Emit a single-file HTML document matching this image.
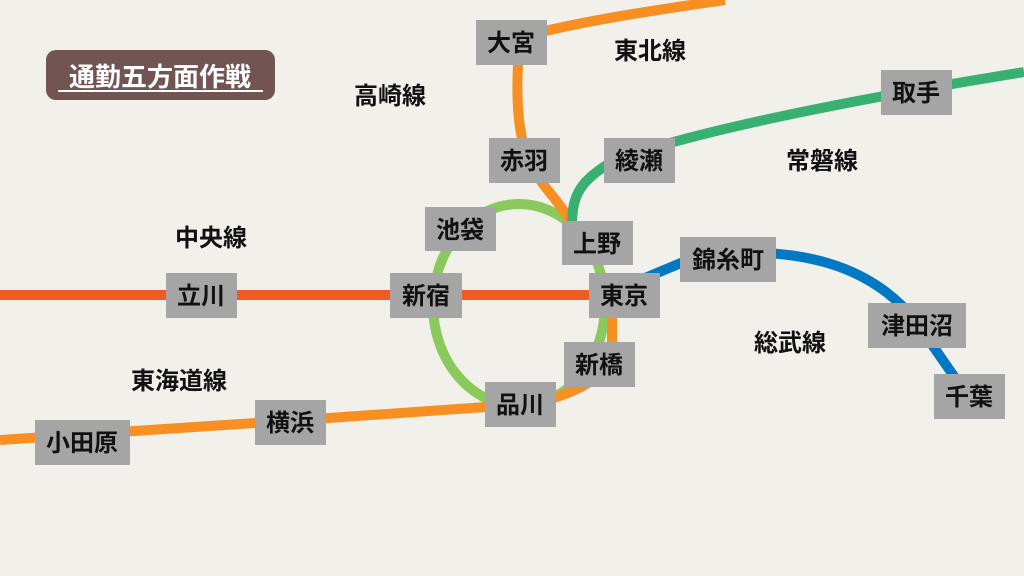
<!DOCTYPE html>
<html><head><meta charset="utf-8"><style>
body{margin:0;background:#f2f0ea;}
svg{display:block}
text{font-family:"Liberation Sans","Noto Sans CJK JP",sans-serif;font-weight:bold;}
</style></head><body>
<svg width="1024" height="576" viewBox="0 0 1024 576">
<rect width="1024" height="576" fill="#f2f0ea"/>
<g fill="none" stroke-width="10">
<ellipse cx="519" cy="305" rx="86" ry="101" stroke="#8ac95c"/>
<path d="M0 440 L300 420 L515 405 C565 400 612 380 612 345 L612 300" stroke="#f78f22"/>
<path d="M725 0 C640 12 560 25 520 38 C515 90 515 150 540 180 C555 200 565 210 572 225" stroke="#f78f22"/>
<path d="M572 225 C572 195 580 180 615 160 C700 130 850 100 1024 72" stroke="#37b071"/>
<path d="M0 295 L600 295" stroke="#f25a25"/>
<path d="M645 278 L700 255 C800 245 870 265 915 320 L960 385" stroke="#0078c4"/>
</g>
<g fill="#a5a5a5">
<rect x="476" y="20" width="71" height="45"/>
<rect x="489" y="138" width="71" height="45"/>
<rect x="604" y="138" width="71" height="45"/>
<rect x="881" y="70" width="71" height="45"/>
<rect x="425" y="207" width="71" height="44"/>
<rect x="562" y="221" width="71" height="44"/>
<rect x="390" y="273" width="72" height="45"/>
<rect x="589" y="273" width="71" height="45"/>
<rect x="564" y="342" width="71" height="45"/>
<rect x="485" y="382" width="71" height="45"/>
<rect x="166" y="273" width="71" height="45"/>
<rect x="255" y="400" width="71" height="45"/>
<rect x="35" y="420" width="95" height="45"/>
<rect x="680" y="237" width="96" height="45"/>
<rect x="868" y="303" width="98" height="45"/>
<rect x="934" y="374" width="71" height="45"/>
</g>
<g font-size="24" fill="#111" text-anchor="middle">
<text x="511" y="51">大宮</text>
<text x="524" y="169">赤羽</text>
<text x="639" y="169">綾瀬</text>
<text x="916" y="101">取手</text>
<text x="460" y="238">池袋</text>
<text x="597" y="252">上野</text>
<text x="426" y="304">新宿</text>
<text x="624" y="304">東京</text>
<text x="599" y="373">新橋</text>
<text x="520" y="413">品川</text>
<text x="201" y="304">立川</text>
<text x="290" y="431">横浜</text>
<text x="82" y="451">小田原</text>
<text x="728" y="268">錦糸町</text>
<text x="917" y="334">津田沼</text>
<text x="969" y="405">千葉</text>
<text x="650" y="59">東北線</text>
<text x="390" y="104">高崎線</text>
<text x="822" y="169">常磐線</text>
<text x="211" y="246">中央線</text>
<text x="790" y="351">総武線</text>
<text x="179" y="389">東海道線</text>
</g>
<rect x="46" y="50" width="229" height="50" rx="10" fill="#725452"/>
<text x="160" y="86" font-size="26" fill="#fff" text-anchor="middle">通勤五方面作戦</text>
<line x1="58" y1="91" x2="263" y2="91" stroke="#fff" stroke-width="2"/>
</svg>
</body></html>
